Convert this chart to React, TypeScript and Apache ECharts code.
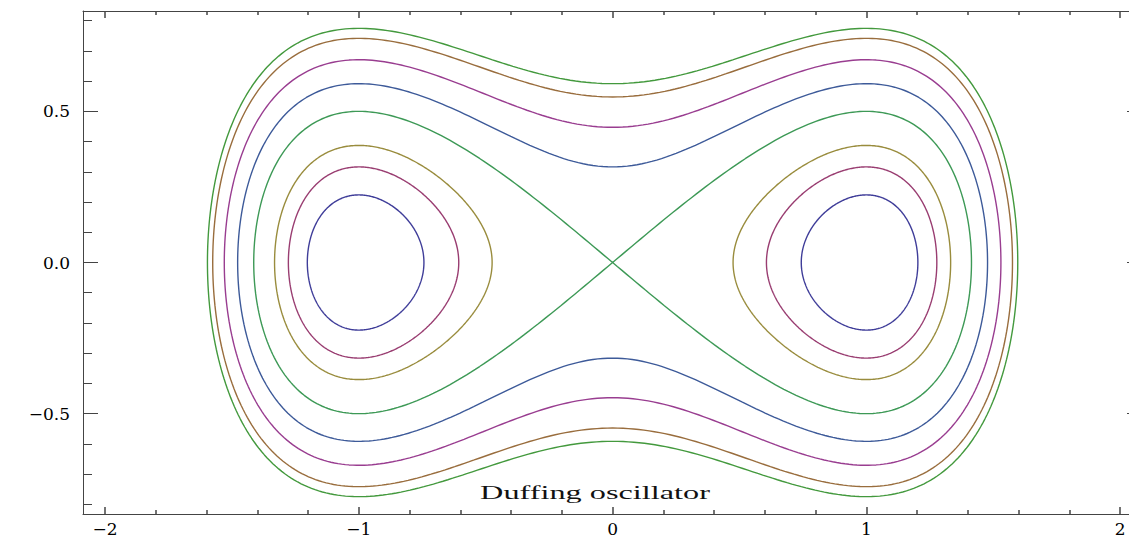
import React, { useEffect, useRef } from "react";
import * as echarts from "echarts";

// Contour levels of the Duffing energy H(x, y) = y^2 - x^2/2 + x^4/4
const levels = [-0.2, -0.15, -0.1, 0, 0.1, 0.2, 0.3, 0.35];
const levelColors = [
  "rgb(63,61,153)",
  "rgb(153,61,113)",
  "rgb(153,140,61)",
  "rgb(61,153,86)",
  "rgb(61,90,153)",
  "rgb(153,61,144)",
  "rgb(153,109,61)",
  "rgb(67,153,61)",
];
const xMajor = [-2, -1, 0, 1, 2];
const xMinor = [-1.8, -1.6, -1.4, -1.2, -0.8, -0.6, -0.4, -0.2, 0.2, 0.4, 0.6, 0.8, 1.2, 1.4, 1.6, 1.8];
const yMajor = [-0.5, 0, 0.5];
const yMinor = [-0.8, -0.7, -0.6, -0.4, -0.3, -0.2, -0.1, 0.1, 0.2, 0.3, 0.4, 0.6, 0.7, 0.8];
const xRange = [-2.087, 2.035];
const yRange = [-0.832, 0.832];
const title = "Duffing oscillator";

const N = 240;

function potential(x: number) {
  return -x * x / 2 + (x * x * x * x) / 4;
}

function loop(H: number, a: number, b: number) {
  const pts: number[][] = [];
  for (let i = 0; i <= N; i++) {
    const t = i / N;
    const x = a + ((b - a) * (1 - Math.cos(Math.PI * t))) / 2;
    const y = Math.sqrt(Math.max(0, H - potential(x)));
    pts.push([x, y]);
  }
  for (let i = N; i >= 0; i--) {
    const t = i / N;
    const x = a + ((b - a) * (1 - Math.cos(Math.PI * t))) / 2;
    const y = Math.sqrt(Math.max(0, H - potential(x)));
    pts.push([x, -y]);
  }
  return pts;
}

function loopsFor(H: number) {
  const d = Math.sqrt(1 + 4 * H);
  const outer = Math.sqrt(1 + d);
  if (H >= 0) return [loop(H, -outer, outer)];
  const inner = Math.sqrt(1 - d);
  return [loop(H, -outer, -inner), loop(H, inner, outer)];
}

const fmt = (v: number, digits: number) => {
  const s = v.toFixed(digits);
  return v < 0 ? "\u2212" + s.slice(1) : s;
};

export default function App() {
  const ref = useRef<HTMLDivElement>(null);
  useEffect(() => {
    if (!ref.current) return;
    const chart = echarts.init(ref.current, undefined, { renderer: "svg" });
    const frameColor = "#444";
    const labelFont = { fontFamily: "DejaVu Serif", fontSize: 17, color: "#000" };

    const xAxisBase = {
      type: "value" as const,
      min: xRange[0],
      max: xRange[1],
      splitLine: { show: false },
    };
    const yAxisBase = {
      type: "value" as const,
      min: yRange[0],
      max: yRange[1],
      splitLine: { show: false },
    };
    const hiddenLine = { show: false, onZero: false };

    const xAxes = [
      {
        ...xAxisBase,
        position: "bottom",
        axisLine: { show: true, onZero: false, lineStyle: { color: frameColor, width: 1 } },
        axisTick: { show: true, inside: true, length: 7, customValues: xMajor, lineStyle: { color: frameColor, width: 1.5 } },
        axisLabel: { show: true, customValues: xMajor, margin: 6, formatter: (v: number) => fmt(v, 0), ...labelFont },
      },
      {
        ...xAxisBase,
        position: "bottom",
        axisLine: hiddenLine,
        axisTick: { show: true, inside: true, length: 4, customValues: xMinor, lineStyle: { color: frameColor, width: 1.5 } },
        axisLabel: { show: false },
      },
      {
        ...xAxisBase,
        position: "top",
        axisLine: { show: true, onZero: false, lineStyle: { color: frameColor, width: 1 } },
        axisTick: { show: true, inside: true, length: 7, customValues: xMajor, lineStyle: { color: frameColor, width: 1.5 } },
        axisLabel: { show: false },
      },
      {
        ...xAxisBase,
        position: "top",
        axisLine: hiddenLine,
        axisTick: { show: true, inside: true, length: 4, customValues: xMinor, lineStyle: { color: frameColor, width: 1.5 } },
        axisLabel: { show: false },
      },
    ];
    const yAxes = [
      {
        ...yAxisBase,
        position: "left",
        axisLine: { show: true, onZero: false, lineStyle: { color: frameColor, width: 1 } },
        axisTick: { show: true, inside: true, length: 15, customValues: yMajor, lineStyle: { color: frameColor, width: 1 } },
        axisLabel: { show: true, customValues: yMajor, margin: 13, formatter: (v: number) => fmt(v, 1), ...labelFont },
      },
      {
        ...yAxisBase,
        position: "left",
        axisLine: hiddenLine,
        axisTick: { show: true, inside: true, length: 9, customValues: yMinor, lineStyle: { color: frameColor, width: 1 } },
        axisLabel: { show: false },
      },
      {
        ...yAxisBase,
        position: "right",
        axisLine: hiddenLine,
        axisTick: { show: true, inside: true, length: 2, customValues: yMajor, lineStyle: { color: frameColor, width: 1 } },
        axisLabel: { show: false },
      },
    ];

    const series: any[] = [];
    levels.forEach((H, i) => {
      loopsFor(H).forEach((pts) => {
        series.push({
          type: "line",
          xAxisIndex: 0,
          yAxisIndex: 0,
          data: pts,
          showSymbol: false,
          symbol: "none",
          smooth: false,
          silent: true,
          lineStyle: { color: levelColors[i], width: 1.4 },
          z: 3,
        });
      });
    });

    chart.setOption({
      animation: false,
      backgroundColor: "#fff",
      grid: { left: 83, top: 11, right: 0, height: 506, containLabel: false },
      xAxis: xAxes,
      yAxis: yAxes,
      series,
      graphic: [
        {
          type: "text",
          x: 595,
          y: 493,
          scaleX: 1.7,
          z: 10,
          style: {
            text: title,
            fontFamily: "Liberation Serif",
            fontSize: 19,
            fill: "#111",
            textAlign: "center",
            textVerticalAlign: "middle",
          },
        },
      ],
    });
    return () => chart.dispose();
  }, []);
  return (
    <div
      ref={ref}
      style={{ position: "absolute", left: 0, top: 0, width: 1129, height: 537 }}
    />
  );
}
